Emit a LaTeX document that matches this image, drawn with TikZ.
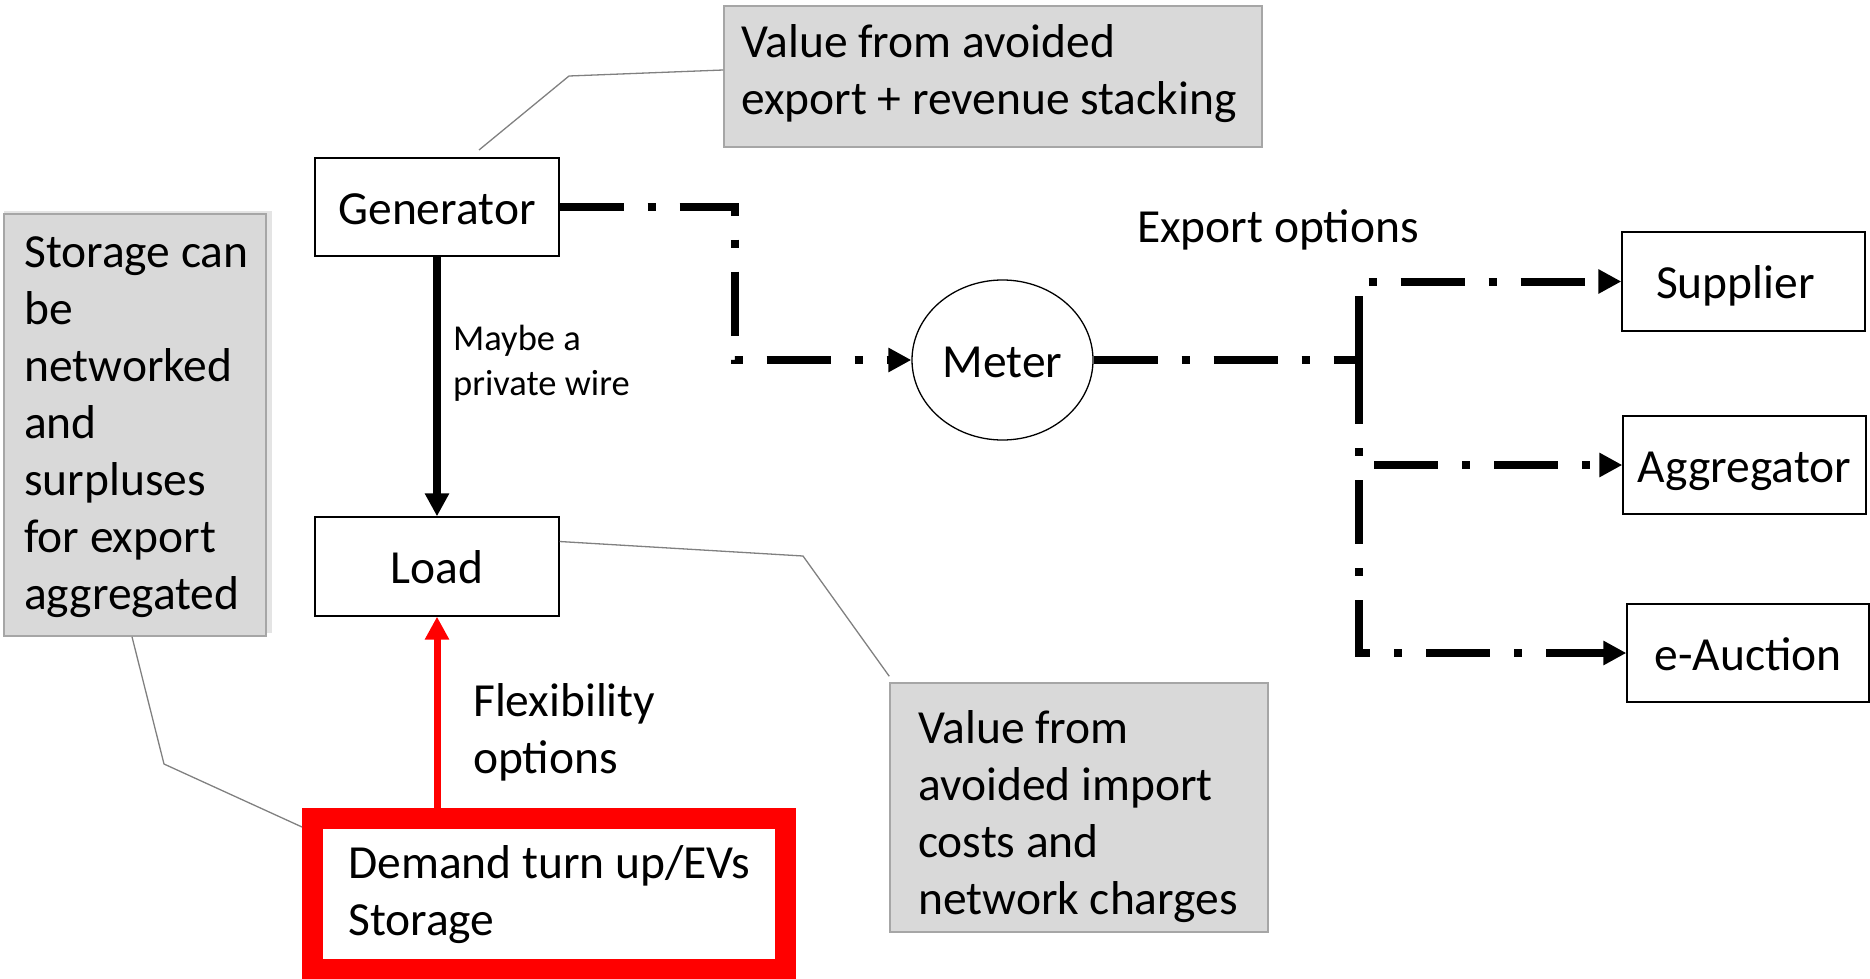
\documentclass[tikz,border=0pt]{standalone}
\usepackage{fontspec}
\setmainfont{Carlito}
\usetikzlibrary{arrows.meta,shapes.geometric}
\definecolor{boxgray}{HTML}{D9D9D9}
\definecolor{boxedge}{HTML}{A6A6A6}
\definecolor{shadowgray}{HTML}{E4E4E4}
\definecolor{calloutgray}{HTML}{808080}
\begin{document}
\begin{tikzpicture}[x=1pt,y=-1pt,
  big/.style={font=\fontsize{47.5}{57}\selectfont},
  small/.style={font=\fontsize{36.5}{45}\selectfont},
  whitebox/.style={draw=black, line width=1.3pt, fill=white, rectangle, inner sep=0pt, text height=34pt, text depth=0pt, big},
  graybox/.style={draw=boxedge, line width=1.5pt, fill=boxgray, rectangle, inner sep=0pt},
  txt/.style={inner sep=0pt, align=left, anchor=base west, big},
  dd/.style={line width=8pt, dash pattern=on 64pt off 24pt on 8pt off 24pt},
  tip/.style={-{Triangle[length=23pt,width=23pt]}},
  callout/.style={draw=calloutgray, line width=1.3pt},
]
\useasboundingbox (0,0) rectangle (1870,979);

% grey note boxes
\fill[shadowgray] (4,211) rectangle (272,633);
\node[graybox, minimum width=262pt, minimum height=422pt] (store) at (135,425) {};
\node[graybox, minimum width=538pt, minimum height=141pt] (valexp) at (993,76.5) {};
\node[graybox, minimum width=378pt, minimum height=249pt] (valimp) at (1079,807.5) {};

% main boxes
\node[whitebox, minimum width=244pt, minimum height=98pt] (gen) at (437,207) {Generator};
\node[whitebox, minimum width=244pt, minimum height=99pt] (load) at (437,566.5) {Load};
\node[draw=black, line width=1.3pt, ellipse, inner sep=0pt, minimum width=181pt, minimum height=160pt, text height=34pt, text depth=0pt, big] (meter) at (1002.5,360) {Meter};
\node[whitebox, minimum width=243pt, minimum height=99pt] (sup) at (1743.5,281.5) {Supplier\hspace*{16pt}};
\node[whitebox, minimum width=243pt, minimum height=98pt] (agg) at (1744.5,465) {Aggregator};
\node[whitebox, minimum width=242pt, minimum height=98pt] (eauc) at (1748,653) {e-Auction};
\node[draw=red, line width=21pt, rectangle, inner sep=0pt, minimum width=473pt, minimum height=151pt] (demand) at (549,894) {};

% texts (anchor = baseline of last line)
\node[txt] (tdemand) at (348,935) {Demand turn up/EVs\\Storage};
\node[txt] (tflex) at (473,773) {Flexibility\\options};
\node[txt, small] (tmaybe) at (453,395) {Maybe a\\private wire};
\node[txt] (texport) at (1137,242) {Export options};
\node[txt] (tvalexp) at (741,114) {Value from avoided\\export + revenue stacking};
\node[txt] (tstore) at (24,609) {Storage can\\be\\networked\\and\\surpluses\\for export\\aggregated};
\node[txt] (tvalimp) at (918,914) {Value from\\avoided import\\costs and\\network charges};

% connectors
\coordinate (bend) at (735,283);
\coordinate (junc) at (1359,360);
\draw[dd, tip] (gen.east) -| (bend) |- (meter.west);
\draw[dd] (meter.east) -- (junc);
\draw[dd, tip] (junc) |- (sup.west);
\draw[dd, tip] (junc) |- (agg.west);
\draw[dd, tip] (junc) |- (eauc.west);
\draw[line width=8pt, tip] (gen.south) -- (load.north);
\draw[red, line width=7pt, tip] (demand.north -| load.south) -- (load.south);

% callout lines
\coordinate (k1) at (569,76);
\coordinate (k1e) at (479,150);
\coordinate (k2) at (803,556);
\coordinate (k3) at (164,764);
\draw[callout] ([yshift=6.5pt]valexp.west) -- (k1) -- (k1e);
\draw[callout] ([yshift=25pt]load.east) -- (k2) -- ([yshift=6pt]valimp.north west);
\draw[callout] ([xshift=-3pt]store.south) -- (k3) -- ([yshift=67pt]demand.west);
\end{tikzpicture}
\end{document}
